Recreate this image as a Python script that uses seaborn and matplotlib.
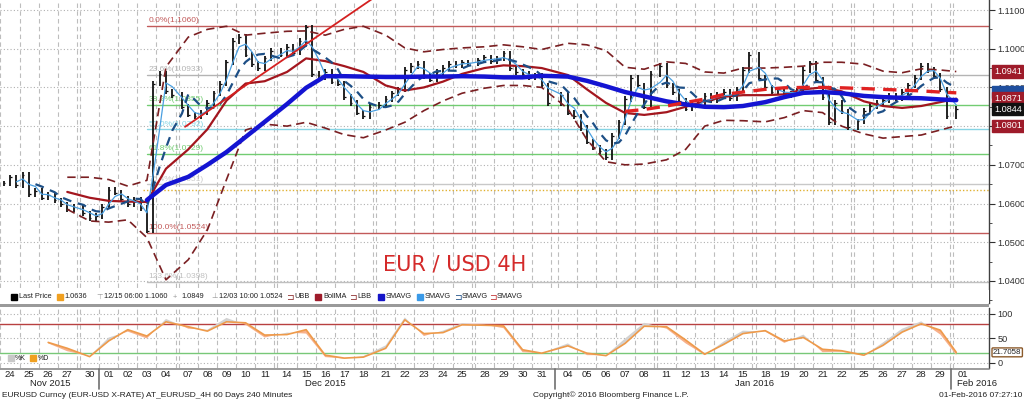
import numpy as np
import pandas as pd
import matplotlib
matplotlib.use("Agg")
import matplotlib.pyplot as plt
import matplotlib.transforms as mtrans
from matplotlib.lines import Line2D
from matplotlib.patches import Rectangle
import seaborn as sns

nan = np.nan
W, H = 1024, 401

# trading days on the 4H chart (Jan 1 holiday is skipped)
days = pd.bdate_range("2015-11-24", "2016-02-01")
days = days[days != pd.Timestamp("2016-01-01")]

# 8-hour closes, three per day (Feb 1 only has one so far)
closes = [
    1.0652, 1.0668, 1.0648,  1.0675, 1.0625, 1.0632,  1.0615, 1.0622, 1.0608,  1.0598, 1.0585, 1.0592,
    1.0575, 1.0562, 1.0568,  1.0592, 1.0635, 1.0628,  1.0612, 1.0598, 1.0610,  1.0588, 1.0530, 1.0910,
    1.0935, 1.0890, 1.0880,
    1.0850, 1.0830, 1.0825,  1.0835, 1.0860, 1.0885,  1.0910, 1.0965, 1.1020,  1.1030, 1.0985, 1.0960,
    1.0950, 1.0975, 1.0995,
    1.0985, 1.1005, 1.0990,  1.1020, 1.1055, 1.0935,  1.0925, 1.0940, 1.0915,  1.0910, 1.0875, 1.0860,
    1.0835, 1.0825, 1.0850,
    1.0855, 1.0870, 1.0885,  1.0895, 1.0945, 1.0955,  1.0960, 1.0930, 1.0920,  1.0940, 1.0950, 1.0960,
    1.0958, 1.0965, 1.0962,
    1.0970, 1.0978, 1.0968,  1.0975, 1.0988, 1.0950,  1.0940, 1.0935, 1.0925,  1.0930, 1.0905, 1.0860,
    1.0880, 1.0835, 1.0825,  1.0795, 1.0760, 1.0745,  1.0735, 1.0720, 1.0775,  1.0810, 1.0870, 1.0925,
    1.0905, 1.0850, 1.0935,
    1.0955, 1.0905, 1.0888,  1.0865, 1.0845, 1.0855,  1.0862, 1.0878, 1.0868,  1.0880, 1.0888, 1.0872,
    1.0895, 1.0945, 1.0985,
    1.0925, 1.0900, 1.0888,  1.0895, 1.0880, 1.0885,  1.0892, 1.0945, 1.0962,  1.0920, 1.0875, 1.0810,
    1.0860, 1.0838, 1.0798,
    1.0812, 1.0840, 1.0852,  1.0860, 1.0868, 1.0878,  1.0872, 1.0888, 1.0905,  1.0925, 1.0955, 1.0945,
    1.0930, 1.0895, 1.0825,
    1.0844,
]
bars_per_day = [3] * (len(days) - 1) + [1]

# daily indicator readings (one per trading day)
ubb = [nan, nan, nan, 1.0668,
       1.0668, 1.0662, 1.0645, 1.0660, 1.0953,
       1.1030, 1.1050, 1.1058, 1.1035, 1.1040,
       1.1045, 1.1046, 1.1035, 1.1050, 1.1058,
       1.1035, 1.1002, 1.0992, 1.0998, 1.1002,
       1.1005, 1.1010, 1.1005, 1.0998,
       1.1014, 1.1010, 1.0995, 1.0952, 1.0947,
       1.0966, 1.0962, 1.0940, 1.0937, 1.0950,
       1.0950, 1.0952, 1.0955, 1.0965, 1.0965,
       1.0960, 1.0942, 1.0938, 1.0948, 1.0945,
       1.0941]
lbb = [nan, nan, nan, 1.0585,
       1.0555, 1.0552, 1.0558, 1.0512, 1.0403,
       1.0455, 1.0532, 1.0662, 1.0790, 1.0805,
       1.0800, 1.0810, 1.0795, 1.0778, 1.0770,
       1.0790, 1.0810, 1.0840, 1.0865, 1.0885,
       1.0898, 1.0905, 1.0905, 1.0900,
       1.0845, 1.0765, 1.0708, 1.0700, 1.0702,
       1.0713, 1.0740, 1.0800, 1.0815, 1.0814,
       1.0811, 1.0822, 1.0840, 1.0835, 1.0800,
       1.0780, 1.0769, 1.0773, 1.0777, 1.0790,
       1.0801]
bollma = [nan, nan, nan, 1.0630,
          1.0615, 1.0607, 1.0605, 1.0604, 1.0690,
          1.0740, 1.0792, 1.0866, 1.0910, 1.0916,
          1.0940, 1.0975, 1.0968, 1.0955, 1.0940,
          1.0905, 1.0892, 1.0900, 1.0915, 1.0935,
          1.0950, 1.0957, 1.0955, 1.0950,
          1.0932, 1.0895, 1.0860, 1.0834, 1.0829,
          1.0836, 1.0850, 1.0864, 1.0876, 1.0880,
          1.0880, 1.0882, 1.0895, 1.0900, 1.0890,
          1.0864, 1.0852, 1.0847, 1.0852, 1.0862,
          1.0871]
sma_slow = [nan, nan, nan, nan,
            nan, nan, nan, 1.0609, 1.0648,
            1.0669, 1.0700, 1.0733, 1.0772, 1.0811,
            1.0857, 1.0899, 1.0929, 1.0929, 1.0928,
            1.0927, 1.0927, 1.0928, 1.0928, 1.0929,
            1.0928, 1.0926, 1.0926, 1.0930,
            1.0928, 1.0917, 1.0903, 1.0888, 1.0877,
            1.0864, 1.0856, 1.0850, 1.0849, 1.0852,
            1.0862, 1.0875, 1.0886, 1.0888, 1.0885,
            1.0878, 1.0875, 1.0873, 1.0872, 1.0869,
            1.0867]
sma_red = [nan] * 28 + [
            nan, nan, nan, 1.0838, 1.0843,
            1.0852, 1.0861, 1.0870, 1.0882, 1.0888,
            1.0895, 1.0899, 1.0900, 1.0900, 1.0899,
            1.0897, 1.0895, 1.0893, 1.0891, 1.0888,
            1.0886]
stoch_d = [nan, nan, 42, 30,
           13, 45, 68, 55, 84,
           74, 65, 84, 82, 57,
           58, 68, 16, 10, 12,
           30, 88, 60, 62, 78,
           77, 76, 27, 20,
           35, 20, 15, 40, 75,
           74, 47, 18, 38, 60,
           66, 45, 52, 28, 25,
           16, 36, 63, 80, 67,
           21.7058]
stoch_k = [nan, nan, 40, 24,
           14, 52, 64, 50, 90,
           70, 68, 92, 78, 52,
           62, 60, 12, 9, 14,
           36, 93, 55, 66, 81,
           78, 71, 22, 20,
           40, 16, 16, 50, 82,
           70, 40, 16, 44, 66,
           64, 41, 58, 22, 23,
           15, 42, 70, 85, 58,
           16]

swing_high, swing_low = 1.10596, 1.05243
fib_ratios = [0.0, 0.236, 0.382, 0.5, 0.618, 0.764, 1.0, 1.236]
fib_colors = ['#c25a5a', '#b4b4b4', '#72cc72', '#86d4e4', '#72cc72', '#c8c8c8', '#c25a5a', '#c0c0c0']
ref_level = 1.0636
trend_days = ["2015-12-07", "2015-12-15"]
trend_prices = [1.0804, 1.1012]
box_values = [1.0941, 1.0889, 1.0871, 1.0844, 1.0801]
box_texts = ['1.0941', '1.0886', '1.0871', '1.0844', '1.0801']
box_colors = ['#9e1b2a', '#1f4f9e', '#9e1b2a', '#111111', '#9e1b2a']

# ---- x positions: one unit per trading day, small gaps for weekends/holidays
pos = [0.0]
for prev, cur in zip(days[:-1], days[1:]):
    gap = (cur - prev).days
    pos.append(pos[-1] + 1 + (0.17 if gap >= 3 else 0) + (0.2 if gap >= 4 else 0))
pos = np.array(pos)
offs = np.array([-1 / 3, 0, 1 / 3])
bar_x = np.concatenate([pos[i] + offs[:n] for i, n in enumerate(bars_per_day)])
ind_x = pos.copy()
ind_x[-1] = bar_x[-1]

bars = pd.DataFrame({'x': bar_x, 'close': closes})
bars['open'] = bars['close'].shift(1).fillna(bars['close'])
bars['sma_fast'] = bars['close'].rolling(3).mean()
bars['sma_mid'] = bars['close'].rolling(6).mean()

ind = pd.DataFrame({'x': ind_x, 'ubb': ubb, 'lbb': lbb, 'bollma': bollma,
                    'sma_slow': sma_slow, 'sma_red': sma_red,
                    'k': stoch_k, 'd': stoch_d})

# ---- figure
sns.set_style("white")
plt.rcParams['font.family'] = ['Liberation Sans', 'DejaVu Sans']
fig = plt.figure(figsize=(W / 100, H / 100), dpi=100)
fig.patch.set_facecolor('white')


def fx(px):
    return px / W


def fy(py):
    return 1 - py / H


ax = fig.add_axes([0, fy(303), 989 / W, 303 / H])
axs = fig.add_axes([0, fy(368), 989 / W, 60 / H])
xlim = (-0.524, 51.28)
for a in (ax, axs):
    a.set_xlim(*xlim)
    a.set_facecolor('white')
    for s in ('top', 'left', 'bottom'):
        a.spines[s].set_visible(False)
    a.spines['right'].set_color('#404040')
    a.spines['right'].set_linewidth(1)
    a.set_xticks([])
    a.yaxis.tick_right()
    a.tick_params(axis='y', direction='out', length=4, width=0.8, colors='#303030',
                  labelsize=6.6, pad=2)
ax.set_ylim(1.11 - 293 / 3871, 1.11 + 10 / 3871)
axs.set_ylim(-10.2, 112.2)

# grid
for lvl in np.arange(1.04, 1.1101, 0.01):
    ax.axhline(lvl, color='#b0b0b0', lw=0.8, ls=(0, (1, 2)), zorder=0)
for lvl in (0, 50, 100):
    axs.axhline(lvl, color='#b0b0b0', lw=0.8, ls=(0, (1, 2)), zorder=0)
bounds = []
for i, p in enumerate(pos):
    bounds.append(p - 0.5)
    if i > 0 and (days[i] - days[i - 1]).days >= 3:
        bounds.append(pos[i - 1] + 0.5)
for b in bounds:
    for a in (ax, axs):
        a.axvline(b, color='#bdbdbd', lw=0.8, ls=(0, (4, 3)), zorder=0)

# right price scale (1.0800 sits under the 1.0801 tag, as in the terminal)
yt = np.arange(1.04, 1.1101, 0.01)
ax.set_yticks(yt)
ax.set_yticklabels(['' if abs(v - 1.08) < 1e-6 else f'{v:.4f}' for v in yt])
ax.set_yticks(np.arange(1.035, 1.1101, 0.01), minor=True)
ax.tick_params(axis='y', which='minor', direction='out', length=2, colors='#303030')
axs.set_yticks([0, 50, 100])
axs.set_yticklabels(['0', '50', '100'])

# fibonacci retracement levels
fib_x0 = pos[days.get_loc(pd.Timestamp("2015-12-03"))]
for r, c in zip(fib_ratios, fib_colors):
    lvl = swing_high - r * (swing_high - swing_low)
    ax.plot([fib_x0, xlim[1]], [lvl, lvl], color=c, lw=1.0, zorder=1)
    ax.annotate(f'{r * 100:.1f}%({lvl:.4f})', (fib_x0, lvl), xytext=(1, 1), textcoords='offset points',
                fontsize=6, color=c, va='bottom', ha='left', zorder=1)
ax.plot([fib_x0 - 0.2, xlim[1]], [ref_level, ref_level], color='#e0b030', lw=1.0,
        ls=(0, (1, 1.5)), zorder=1)

# price bars
hi = np.maximum(bars['open'], bars['close']) + 0.0007
lo = np.minimum(bars['open'], bars['close']) - 0.0007
ax.vlines(bars['x'], lo, hi, color='#111111', lw=1.3, zorder=2)
ax.hlines(bars['close'], bars['x'], bars['x'] + 0.09, color='#111111', lw=0.9, zorder=2)


# indicators
def line(a, df, col, **kw):
    d = df[['x', col]].dropna()
    sns.lineplot(data=d, x='x', y=col, ax=a, estimator=None, sort=False, legend=False, **kw)


line(ax, ind, 'ubb', color='#7a1f22', lw=1.2, linestyle=(0, (5, 3)), zorder=3)
line(ax, ind, 'lbb', color='#7a1f22', lw=1.2, linestyle=(0, (5, 3)), zorder=3)
line(ax, ind, 'bollma', color='#a3161e', lw=1.6, zorder=3)
line(ax, bars, 'sma_fast', color='#4a9fe0', lw=0.9, zorder=4)
line(ax, bars, 'sma_mid', color='#1d4f86', lw=1.6, linestyle=(0, (4, 3)), zorder=4)
line(ax, ind, 'sma_slow', color='#1414d2', lw=3.2, zorder=5)
line(ax, ind, 'sma_red', color='#e02222', lw=2.4, linestyle=(0, (4, 2.5)), zorder=5)

# trendline
t0 = pos[days.get_loc(pd.Timestamp(trend_days[0]))]
t1 = pos[days.get_loc(pd.Timestamp(trend_days[1]))]
slope = (trend_prices[1] - trend_prices[0]) / (t1 - t0)
tx = np.array([t0 - 0.17, t1 + 5])
ax.plot(tx, trend_prices[0] + slope * (tx - t0), color='#d42020', lw=1.3, zorder=4)

for a in (ax, axs):
    a.set_xlabel('')
    a.set_ylabel('')

# price tags on the right axis
tr = mtrans.blended_transform_factory(ax.transAxes, ax.transData)
for v, t, c in zip(box_values, box_texts, box_colors):
    ax.text(1.005, v, t, transform=tr, ha='left', va='center', fontsize=6.6,
            color='white' if c != '#1f4f9e' else c, clip_on=False, zorder=10,
            bbox=dict(boxstyle='square,pad=0.18', fc=c, ec=c))

# stochastic panel
axs.axhline(80, color='#b84040', lw=1.0, zorder=1)
axs.axhline(20, color='#78c878', lw=1.0, zorder=1)
k = ind['k'].to_numpy(float)
d = ind['d'].to_numpy(float)
axs.fill_between(ind['x'], k, d, where=k >= d, interpolate=True, color='#d2d2d2', lw=0, zorder=2)
axs.fill_between(ind['x'], k, d, where=k < d, interpolate=True, color='#f7b08a', lw=0, zorder=2)
line(axs, ind, 'd', color='#ee9a4a', lw=1.2, zorder=3)
trs = mtrans.blended_transform_factory(axs.transAxes, axs.transData)
axs.text(1.004, stoch_d[-1], f'{stoch_d[-1]:.4f}', transform=trs, ha='left', va='center', fontsize=5.7,
         color='#202020', clip_on=False, zorder=10,
         bbox=dict(boxstyle='round,pad=0.12', fc='white', ec='#8b5a2b', lw=1))

# panel separators
fig.add_artist(Rectangle((0, fy(307)), 989 / W, 3 / H, transform=fig.transFigure,
                         fc='#9a9a9a', ec='none'))
fig.add_artist(Line2D([0, 989 / W], [fy(368.5), fy(368.5)], transform=fig.transFigure,
                      color='#8a8a8a', lw=1.2))
ax.add_patch(Rectangle((0, 0), 1, 13 / 303, transform=ax.transAxes, fc='white', ec='none', zorder=8))


# legend rows
def square(px, color, py=297):
    fig.add_artist(Rectangle((fx(px), fy(py + 3)), 6 / W, 6 / H, transform=fig.transFigure,
                             fc=color, ec=color, zorder=20))


def label(px, txt, color='#202020', py=297, size=5.3):
    fig.text(fx(px), fy(py), txt, fontsize=size, color=color, va='center', ha='left', zorder=20)


square(11, '#000000'); label(19, 'Last Price')
square(57, '#f0a020'); label(64, '1.0636')
label(96, '⊤', '#999999'); label(104, '12/15 06:00 1.1060')
label(173, '+', '#999999'); label(181, '1.0849')
label(211, '⊥', '#999999'); label(219, '12/03 10:00 1.0524')
label(286, '⊐', '#8b2a2a', size=6.5); label(294, 'UBB')
square(315, '#9e1b2a'); label(323, 'BollMA')
label(349, '⊐', '#8b2a2a', size=6.5); label(357, 'LBB')
square(378, '#1414c8'); label(386, 'SMAVG')
square(417, '#3a9ae8'); label(425, 'SMAVG')
label(454, '⊐', '#1d4f86', size=6.5); label(462, 'SMAVG')
label(489, '⊐', '#c23030', size=6.5); label(497, 'SMAVG')

square(8, '#c8c8c8', 358); label(15, '%K', py=358, size=5)
square(30, '#f0a020', 358); label(38, '%D', py=358, size=5)

# date axis
tdate = mtrans.blended_transform_factory(axs.transData, fig.transFigure)
for p, dte in zip(pos, days):
    fig.text(p, fy(374.5), f'{dte.day:02d}', transform=tdate, fontsize=6.8, color='#202020',
             ha='center', va='center')
months = pd.Series(pos, index=days).groupby(days.to_period('M'))
mnames = {'2015-11': 'Nov 2015', '2015-12': 'Dec 2015', '2016-01': 'Jan 2016', '2016-02': 'Feb 2016'}
prev_last = None
for per, grp in months:
    if prev_last is not None:
        sep = (prev_last + grp.iloc[0]) / 2
        fig.add_artist(Line2D([sep, sep], [fy(369), fy(389)], transform=tdate, color='#707070', lw=1.2))
    if len(grp) > 1:
        fig.text((grp.iloc[0] + grp.iloc[-1]) / 2, fy(383), mnames[str(per)], transform=tdate,
                 fontsize=6.8, color='#202020', ha='center', va='center')
    else:
        fig.text(grp.iloc[0] - 0.3, fy(383), mnames[str(per)], transform=tdate,
                 fontsize=6.8, color='#202020', ha='left', va='center')
    prev_last = grp.iloc[-1]

# titles / footer
fig.text(fx(455), fy(265), 'EUR / USD 4H', fontsize=15, color='#d42a2a', ha='center', va='center',
         family=['DejaVu Sans'])
fig.text(fx(2), fy(395.5), 'EURUSD Curncy (EUR-USD X-RATE) AT_EURUSD_4H 60 Days 240 Minutes',
         fontsize=6, color='#202020', ha='left', va='center')
fig.text(fx(533), fy(395.5), 'Copyright© 2016 Bloomberg Finance L.P.', fontsize=6, color='#202020',
         ha='left', va='center')
fig.text(fx(1022), fy(395.5), '01-Feb-2016 07:27:10', fontsize=6, color='#202020',
         ha='right', va='center')

fig.savefig('out.png', dpi=100, facecolor='white')
